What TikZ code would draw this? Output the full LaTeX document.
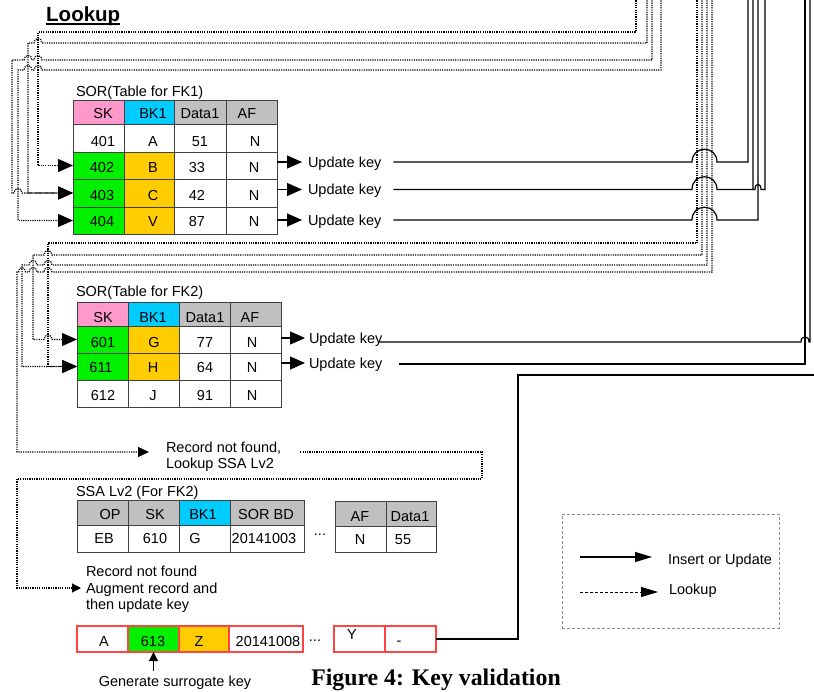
\documentclass[tikz,border=0pt]{standalone}
\usepackage{fontspec}
\setmainfont{Liberation Sans}
\newfontfamily\capfont{Liberation Serif}
\usetikzlibrary{arrows.meta,calc}
\definecolor{pinkc}{HTML}{FF99CC}
\definecolor{cyanc}{HTML}{00CCFF}
\definecolor{grayc}{HTML}{C0C0C0}
\definecolor{greenc}{HTML}{00F000}
\definecolor{orangec}{HTML}{FFCC00}
\definecolor{tbl}{HTML}{404040}
\definecolor{redc}{HTML}{FF4444}
\newcommand{\tcell}[9]{%
  \node[cellst,fill=#6,minimum width={#3-#2},minimum height={#5-#4}] (#1) at ({(#2+#3)/2},{(#4+#5)/2}) {};
  \node[txt] (#1t) at (#8,#9) {#7};}
\begin{document}
\begin{tikzpicture}[x=1pt,y=-1pt,
  font=\fontsize{14.5}{16.6}\selectfont,
  txt/.style={inner sep=0pt, outer sep=0pt, text height=10.4pt, text depth=0pt},
  cellst/.style={draw=tbl, line width=1pt, inner sep=0pt, outer sep=0pt},
  lk/.style={line width=1.2pt, dash pattern=on 1.2pt off 1.1pt, draw=black},
  upd/.style={line width=1.2pt, draw=black},
  arL/.style={-{Triangle[length=15pt,width=13pt]}},
  arM/.style={-{Triangle[length=11pt,width=10pt]}},
  arS/.style={-{Triangle[length=9pt,width=9pt]}},
  arLeg/.style={-{Triangle[length=17pt,width=10pt]}},
]
\useasboundingbox (0,0) rectangle (814,691);
\fill[white] (0,0) rectangle (814,691);

% title
\node[font=\bfseries\fontsize{20.5}{24}\selectfont, anchor=base west, inner sep=0pt] (title) at (46,21) {Lookup};
\draw[line width=1.4pt] ($(title.base west)+(0,3)$) -- ($(title.base east)+(0,3)$);

% ---------- FK1 table ----------
\node[txt,anchor=west] (tt1) at (76,91) {SOR(Table for FK1)};
\tcell{h1a}{73}{124}{100}{124}{pinkc}{SK}{103}{113.5}
\tcell{h1b}{124}{174}{100}{124}{cyanc}{BK1}{153}{113.5}
\tcell{h1c}{174}{226}{100}{124}{grayc}{Data1}{200}{113.5}
\tcell{h1d}{226}{277}{100}{124}{grayc}{AF}{247}{113.5}
\tcell{c401s}{73}{124}{124}{152}{white}{401}{103}{141.5}
\tcell{c401b}{124}{174}{124}{152}{white}{A}{153}{141.5}
\tcell{c401c}{174}{226}{124}{152}{white}{51}{200}{141.5}
\tcell{c401d}{226}{277}{124}{152}{white}{N}{255}{141.5}
\tcell{c402s}{73}{124}{152}{179}{greenc}{402}{102}{167.5}
\tcell{c402b}{124}{174}{152}{179}{orangec}{B}{153}{167.5}
\tcell{c402c}{174}{226}{152}{179}{white}{33}{197}{167.5}
\tcell{c402d}{226}{277}{152}{179}{white}{N}{254}{167.5}
\tcell{c403s}{73}{124}{179}{207}{greenc}{403}{102}{195}
\tcell{c403b}{124}{174}{179}{207}{orangec}{C}{153}{195}
\tcell{c403c}{174}{226}{179}{207}{white}{42}{197}{195}
\tcell{c403d}{226}{277}{179}{207}{white}{N}{254}{195}
\tcell{c404s}{73}{124}{207}{234}{greenc}{404}{102}{221}
\tcell{c404b}{124}{174}{207}{234}{orangec}{V}{153}{221}
\tcell{c404c}{174}{226}{207}{234}{white}{87}{197}{221}
\tcell{c404d}{226}{277}{207}{234}{white}{N}{254}{221}

\node[txt,anchor=west] (u1) at (308,162) {Update key};
\node[txt,anchor=west] (u2) at (308,189.5) {Update key};
\node[txt,anchor=west] (u3) at (308,220) {Update key};

% ---------- FK2 table ----------
\node[txt,anchor=west] (tt2) at (76,291) {SOR(Table for FK2)};
\tcell{h2a}{77}{128}{302}{326}{pinkc}{SK}{103}{317}
\tcell{h2b}{128}{179}{302}{326}{cyanc}{BK1}{153}{317}
\tcell{h2c}{179}{230}{302}{326}{grayc}{Data1}{205}{317}
\tcell{h2d}{230}{281}{302}{326}{grayc}{AF}{250}{317}
\tcell{c601s}{77}{128}{326}{353}{greenc}{601}{103}{342}
\tcell{c601b}{128}{179}{326}{353}{orangec}{G}{154}{342}
\tcell{c601c}{179}{230}{326}{353}{white}{77}{205}{342}
\tcell{c601d}{230}{281}{326}{353}{white}{N}{252}{342}
\tcell{c611s}{77}{128}{353}{380}{greenc}{611}{101}{367}
\tcell{c611b}{128}{179}{353}{380}{orangec}{H}{153}{367}
\tcell{c611c}{179}{230}{353}{380}{white}{64}{205}{367}
\tcell{c611d}{230}{281}{353}{380}{white}{N}{252}{367}
\tcell{c612s}{77}{128}{380}{407}{white}{612}{103}{395}
\tcell{c612b}{128}{179}{380}{407}{white}{J}{153}{395}
\tcell{c612c}{179}{230}{380}{407}{white}{91}{205}{395}
\tcell{c612d}{230}{281}{380}{407}{white}{N}{252}{395}

\node[txt,anchor=west] (u4) at (309,338) {Update key};
\node[txt,anchor=west] (u5) at (309,363) {Update key};

% ---------- record not found ----------
\node[txt,anchor=west] (rnfA) at (166,447) {Record not found,};
\node[txt,anchor=west] (rnfB) at (166,463) {Lookup SSA Lv2};

% ---------- SSA Lv2 ----------
\node[txt,anchor=west] (tt3) at (76,491) {SSA Lv2 (For FK2)};
\tcell{h3a}{77}{128}{500}{525}{grayc}{OP}{110}{514}
\tcell{h3b}{128}{179}{500}{525}{grayc}{SK}{155}{514}
\tcell{h3c}{179}{230}{500}{525}{cyanc}{BK1}{203}{514}
\tcell{h3d}{230}{304}{500}{525}{grayc}{SOR BD}{266}{514}
\tcell{s3a}{77}{128}{525}{552}{white}{EB}{104}{538.5}
\tcell{s3b}{128}{179}{525}{552}{white}{610}{155}{538.5}
\tcell{s3c}{179}{230}{525}{552}{white}{G}{195}{538.5}
\tcell{s3d}{230}{304}{525}{552}{white}{20141003}{264}{538.5}
\node[txt] (dots1) at (320,530) {...};
\tcell{h4a}{335}{386}{501}{526}{grayc}{AF}{360}{516}
\tcell{h4b}{386}{436}{501}{526}{grayc}{Data1}{410}{516}
\tcell{s4a}{335}{386}{526}{552}{white}{N}{360}{539}
\tcell{s4b}{386}{436}{526}{552}{white}{55}{403}{539}

\node[txt,anchor=west] (aug1) at (86,571) {Record not found};
\node[txt,anchor=west] (aug2) at (86,588) {Augment record and};
\node[txt,anchor=west] (aug3) at (86,604) {then update key};

% ---------- new record ----------
\begin{scope}[cellst/.style={draw=redc, line width=1.2pt, inner sep=0pt, outer sep=0pt}]
\tcell{n1}{77}{128}{626}{652}{white}{A}{104}{641}
\tcell{c613}{128}{179}{626}{652}{greenc}{613}{153}{641}
\tcell{n3}{179}{229}{626}{652}{orangec}{Z}{199}{641}
\tcell{n4}{229}{303}{626}{652}{white}{20141008}{268}{641}
\tcell{n5}{334}{385}{626}{652}{white}{Y}{352}{634}
\tcell{cdash}{385}{436}{626}{652}{white}{-}{399}{640}
\end{scope}
\node[txt] (dots2) at (315,636) {...};
\node[txt] (gen) at (175,681) {Generate surrogate key};

% ---------- legend ----------
\node[draw=black!45, dash pattern=on 3pt off 2pt, line width=0.9pt, minimum width=217pt, minimum height=114pt, inner sep=0pt] (legbox) at (670.5,571) {};
\node[txt,anchor=west] (leg1) at (668,559) {Insert or Update};
\node[txt,anchor=west] (leg2) at (669,589) {Lookup};
\coordinate (l1s) at (580,557);
\coordinate (l2s) at (580,592);
\draw[upd,arLeg,shorten >=16pt] (l1s) -- (l1s -| leg1.west);
\draw[line width=1pt,dash pattern=on 3pt off 2pt,arLeg,shorten >=11pt] (l2s) -- (l2s -| leg2.west);

% caption
\node[font=\capfont\bfseries\fontsize{23.8}{28}\selectfont, anchor=base, inner sep=0pt] (cap) at (436,685) {Figure 4: Key validation};

% ---------- free ends at top ----------
\coordinate (ta) at (636,-2);
\coordinate (tb) at (647,-2);
\coordinate (tc) at (652,-2);
\coordinate (td) at (661,-2);
\coordinate (te) at (697,-2);
\coordinate (tf) at (702,-2);
\coordinate (tg) at (707,-2);
\coordinate (th) at (712,-2);
\coordinate (sa) at (748,-2);
\coordinate (sb) at (753,-2);
\coordinate (sc) at (758,-2);
\coordinate (sd) at (765,-2);
\coordinate (se) at (805,-2);
\coordinate (sf) at (810,-2);
\coordinate (sg) at (816,375);

% ---------- FK1 lookups ----------
\draw[lk,arL] (ta) -- (636,32) -- (38,32) -- (38,165.5) -- (c402s.west);
\draw[lk,arL] (tb) -- (647,43) -- (42,43) .. controls (42,37) and (34,37) .. (34,43) -- (28,43) -- (28,193) -- (c403s.west);
\draw[lk,arL] (tc) -- (652,60) -- (42,60) .. controls (42,54) and (34,54) .. (34,60) -- (32,60) .. controls (32,54) and (24,54) .. (24,60) -- (12,60) -- (12,193) -- (14,193) .. controls (14,187) and (22,187) .. (22,193) -- (c403s.west);
\draw[lk,arL] (td) -- (661,70) -- (42,70) .. controls (42,64) and (34,64) .. (34,70) -- (32,70) .. controls (32,64) and (24,64) .. (24,70) -- (18,70) -- (18,220.5) -- (c404s.west);

% ---------- FK2 lookups ----------
\draw[lk,arL] (te) -- (697,243) -- (48,243) -- (48,366.5) -- (c611s.west);
\draw[lk,arL] (tf) -- (702,255) -- (52,255) .. controls (52,249) and (44,249) .. (44,255) -- (33,255) -- (33,339.5) -- (44,339.5) .. controls (44,333.5) and (52,333.5) .. (52,339.5) -- (c601s.west);
\draw[lk,arL] (tg) -- (707,265) -- (52,265) .. controls (52,259) and (44,259) .. (44,265) -- (37,265) .. controls (37,259) and (29,259) .. (29,265) -- (22,265) -- (22,366.5) -- (c611s.west);
\draw[lk,arM] (th) -- (712,272) -- (52,272) .. controls (52,266) and (44,266) .. (44,272) -- (37,272) .. controls (37,266) and (29,266) .. (29,272) -- (25.5,272) .. controls (25.5,266) and (18.5,266) .. (18.5,272) -- (17,272) -- (17,452) -- ($(rnfA.west)+(-17,5)$);

% ---------- SSA lookup ----------
\draw[lk,arS,shorten >=5pt] ($(rnfA.east)+(19,5)$) -- (482,452) -- (482,479) -- (17,479) -- (17,588) -- (aug2.west);

% ---------- update-key arrows ----------
\draw[upd,arL,shorten >=6pt] (c402d.east |- u1.west) -- (u1.west);
\draw[upd,arL,shorten >=6pt] (c403d.east |- u2.west) -- (u2.west);
\draw[upd,arL,shorten >=6pt] (c404d.east |- u3.west) -- (u3.west);
\draw[upd,arL,shorten >=4pt] (c601d.east |- u4.west) -- (u4.west);
\draw[upd,arL,shorten >=4pt] (c611d.east |- u5.west) -- (u5.west);

% ---------- update-key lines ----------
\draw[upd] ($(u1.east)+(12,0)$) -- (692,162) .. controls (692,145) and (717,145) .. (717,162) -- (748,162) -- (sa);
\draw[upd] ($(u2.east)+(12,0)$) -- (692,189.5) .. controls (692,172.5) and (717,172.5) .. (717,189.5) -- (753,189.5) -- (sb);
\draw[upd] (753,189.5) -- (755,189.5) .. controls (755,182.5) and (761,182.5) .. (761,189.5) -- (765,189.5) -- (sd);
\draw[upd] ($(u3.east)+(12,0)$) -- (692,220) .. controls (692,203) and (717,203) .. (717,220) -- (758,220) -- (sc);
\draw[upd] ($(u4.east)+(-3,4)$) -- (801,342) .. controls (801,335) and (809,335) .. (809,342) -- (810,342) -- (sf);
\draw[upd] ($(u5.east)+(17,1)$) -- (805,364) -- (se);
\draw[upd] (cdash.east) -- (518,639) -- (518,375) -- (sg);

% generate arrow
\draw[upd,arS,shorten <=5pt] (c613.south |- gen.north) -- (c613.south);
\end{tikzpicture}
\end{document}
